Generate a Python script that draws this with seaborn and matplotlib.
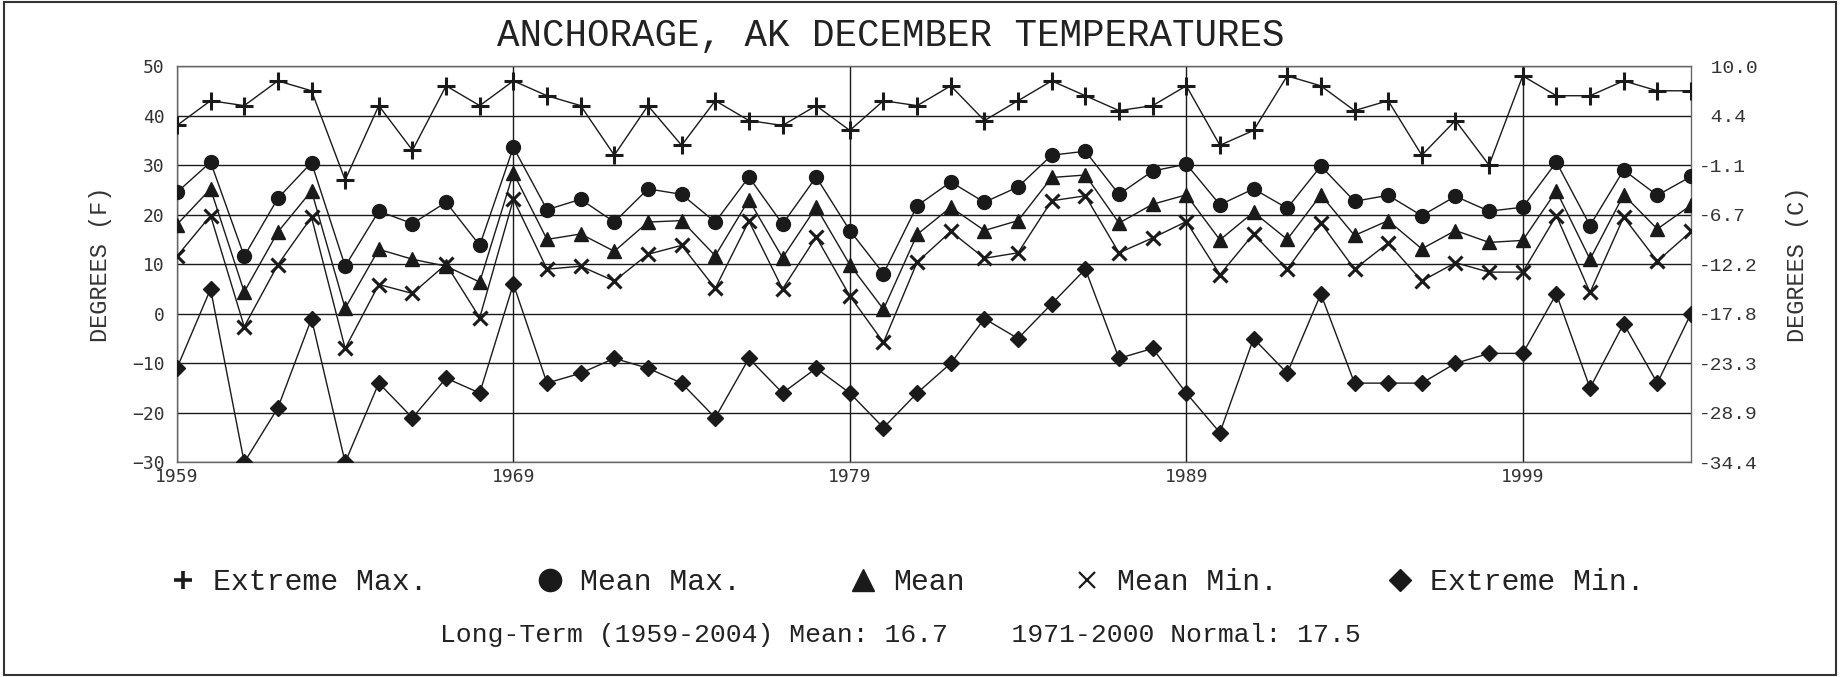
import matplotlib
matplotlib.use("Agg")
import matplotlib.pyplot as plt
from matplotlib.lines import Line2D
from matplotlib.patches import Rectangle
from matplotlib.ticker import FuncFormatter
import seaborn as sns

# december values, degrees F, 1959-2004
years = list(range(1959, 2005))
ext_max = [38, 43, 42, 47, 45, 27, 42, 33, 46, 42,
           47, 44, 42, 32, 42, 34, 43, 39, 38, 42,
           37, 43, 42, 46, 39, 43, 47, 44, 41, 42,
           46, 34, 37, 48, 46, 41, 43, 32, 39, 30,
           48, 44, 44, 47, 45, 45]
mean_max = [24.5, 30.6, 11.6, 23.3, 30.5, 9.6, 20.7, 18.2, 22.5, 13.8,
            33.6, 21.0, 23.1, 18.5, 25.2, 24.1, 18.5, 27.6, 18.1, 27.6,
            16.8, 8.1, 21.8, 26.6, 22.5, 25.6, 32.0, 32.8, 24.1, 28.8,
            30.2, 22.0, 25.2, 21.3, 29.8, 22.7, 23.9, 19.8, 23.7, 20.7,
            21.5, 30.6, 17.8, 29.0, 23.9, 27.7]
mean_t = [18.0, 25.2, 4.4, 16.5, 24.8, 1.1, 13.0, 11.0, 9.6, 6.4,
          28.4, 15.0, 16.1, 12.6, 18.5, 18.8, 11.7, 23.0, 11.3, 21.5,
          9.9, 0.9, 16.0, 21.5, 16.8, 18.8, 27.5, 28.0, 18.3, 22.1,
          24.0, 14.9, 20.5, 15.0, 24.0, 15.8, 18.8, 13.1, 16.8, 14.4,
          14.8, 24.8, 11.0, 24.0, 17.1, 21.9]
mean_min = [11.6, 19.8, -2.6, 9.9, 19.5, -7.0, 5.9, 4.1, 10.0, -0.8,
            23.1, 9.0, 9.6, 6.6, 12.0, 13.8, 5.1, 18.7, 5.0, 15.5,
            3.6, -5.8, 10.4, 16.6, 11.2, 12.3, 22.8, 23.8, 12.3, 15.3,
            18.6, 7.9, 16.1, 9.0, 18.3, 9.0, 14.3, 6.6, 10.3, 8.4,
            8.4, 19.8, 4.3, 19.5, 10.6, 16.6]
ext_min = [-11, 5, -30, -19, -1, -30, -14, -21, -13, -16,
           6, -14, -12, -9, -11, -14, -21, -9, -16, -11,
           -16, -23, -16, -10, -1, -5, 2, 9, -9, -7,
           -16, -24, -5, -12, 4, -14, -14, -14, -10, -8,
           -8, 4, -15, -2, -14, 0]

labels = ["Extreme Max.", "Mean Max.", "Mean", "Mean Min.", "Extreme Min."]
xticks = [1959, 1969, 1979, 1989, 1999]
title = "ANCHORAGE, AK DECEMBER TEMPERATURES"
footer = "Long-Term (1959-2004) Mean: 16.7    1971-2000 Normal: 17.5"

sns.set_style("white")
plt.rcParams['font.family'] = ['Liberation Mono', 'DejaVu Sans Mono']

ink = "#1a1a1a"
fig = plt.figure(figsize=(18.43, 6.77), dpi=100)
ax = fig.add_axes([0.096, 0.317, 0.8215, 0.5855])

# marker, size, edge width (plot) / size, edge width (legend)
styles = [("+", 13, 2.2, 13, 2.6),
          ("o", 10, 1.0, 16, 1.0),
          ("^", 10, 1.0, 16, 1.0),
          ("x", 10, 2.2, 12, 1.6),
          ("D", 8, 1.0, 11, 1.0)]
series = [ext_max, mean_max, mean_t, mean_min, ext_min]

handles = []
for vals, (m, ms, mew, lms, lmew) in zip(series, styles):
    sns.lineplot(x=years, y=vals, ax=ax, color=ink, lw=1.0, marker=m,
                 markersize=ms, mec=ink, mfc=ink, mew=mew, zorder=3)
    handles.append(Line2D([], [], ls="none", marker=m, markersize=lms,
                          mec=ink, mfc=ink, mew=lmew))

ax.set_xlim(1959, 2004)
ax.set_ylim(-30, 50)
ax.set_xticks(xticks)
ax.set_yticks(range(-30, 51, 10))
ax.grid(True, color=ink, lw=1.0, zorder=1)
ax.set_axisbelow(True)
for s in ax.spines.values():
    s.set_color("#666666")
    s.set_linewidth(1.0)
ax.tick_params(length=0, labelsize=13, labelcolor="#333333")
ax.tick_params(axis="y", pad=9)
ax.tick_params(axis="x", pad=4)
for t in ax.get_xticklabels() + ax.get_yticklabels():
    t.set_family("DejaVu Sans Mono")
ax.set_ylabel("DEGREES (F)", fontsize=17, color="#333333")
ax.yaxis.set_label_coords(-0.043, 0.5)
ax.set_xlabel("")

ax2 = ax.twinx()
ax2.set_ylim(-30, 50)
ax2.set_yticks(range(-30, 51, 10))
ax2.yaxis.set_major_formatter(FuncFormatter(lambda f, p: f"{(f - 32) * 5 / 9: .1f}"))
ax2.tick_params(length=0, labelsize=14, labelcolor="#333333", pad=6)
ax2.grid(False)
for s in ax2.spines.values():
    s.set_visible(False)
ax2.set_ylabel("DEGREES (C)", fontsize=17, color="#333333")
ax2.yaxis.set_label_coords(1.0628, 0.5)

fig.text(0.2697, 0.947, title, fontsize=27, ha="left", va="center", color="#222222")

fig.legend(handles, labels, loc="center left", bbox_to_anchor=(0.0775, 0.14),
           ncol=5, frameon=False, prop={"family": "Liberation Mono", "size": 21.5},
           handlelength=0.9, handletextpad=0.55, columnspacing=3.65,
           labelcolor="#222222")

fig.text(0.239, 0.062, footer, fontsize=19, ha="left", va="center", color="#222222")

fig.add_artist(Rectangle((0.002, 0.003), 0.994, 0.994, transform=fig.transFigure,
                         fill=False, ec="#333333", lw=1.5))

fig.savefig("out.png", dpi=100)
